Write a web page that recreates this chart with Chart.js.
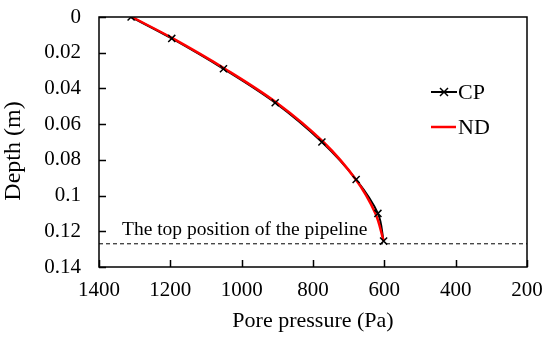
<!DOCTYPE html>
<html>
<head>
<meta charset="utf-8">
<script src="https://cdn.jsdelivr.net/npm/chart.js@4.4.0/dist/chart.umd.min.js"></script>
<style>
  html, body { margin: 0; padding: 0; background: #fff; }
  #wrap { width: 550px; height: 341px; }
</style>
</head>
<body>
<div id="wrap"><canvas id="depthChart" width="550" height="341"></canvas></div>
<script>
// values
var cpPressure = [1310, 1196, 1051, 906, 775, 679, 618, 602];
var cpDepth    = [0, 0.012, 0.029, 0.048, 0.07, 0.091, 0.11, 0.1255];
var ndPressure = [1308, 1193, 1047, 902, 771, 680, 625, 602];
var ndDepth    = [0, 0.012, 0.029, 0.048, 0.07, 0.091, 0.11, 0.1255];
var pipeTopDepth = 0.127;
var pipeTopLabel = 'The top position of the pipeline';
var xTicks = [1400, 1200, 1000, 800, 600, 400, 200];
var yTicks = ['0', '0.02', '0.04', '0.06', '0.08', '0.1', '0.12', '0.14'];

var serif = '"Liberation Serif", "Times New Roman", serif';

function toPoints(xs, ys) {
    return xs.map(function (x, i) { return { x: x, y: ys[i] }; });
}

// inward ticks, box frame, y title, annotation text and legend
var decor = {
    id: 'decor',
    afterDatasetsDraw: function (chart) {
        var c = chart.ctx, a = chart.chartArea;
        var xs = chart.scales.x, ys = chart.scales.y;
        c.save();
        c.strokeStyle = '#000';
        c.lineWidth = 1.5;
        c.strokeRect(a.left, a.top, a.right - a.left, a.bottom - a.top);
        c.beginPath();
        xTicks.forEach(function (v) {
            var px = Math.round(xs.getPixelForValue(v)) + 0.5;
            c.moveTo(px, a.bottom); c.lineTo(px, a.bottom - 7);
        });
        yTicks.forEach(function (v) {
            var py = Math.round(ys.getPixelForValue(parseFloat(v))) + 0.5;
            c.moveTo(a.left, py); c.lineTo(a.left + 7, py);
        });
        c.stroke();

        c.fillStyle = '#000';
        c.font = '19.5px ' + serif;
        c.textBaseline = 'alphabetic';
        c.fillText(pipeTopLabel, a.left + 23, ys.getPixelForValue(pipeTopDepth) - 9);

        // y axis title
        c.save();
        c.translate(14, 151);
        c.rotate(-Math.PI / 2);
        c.font = '24px ' + serif;
        c.textAlign = 'center';
        c.textBaseline = 'middle';
        c.fillText('Depth (m)', 0, 0);
        c.restore();

        // legend
        var lx = 431, ly1 = 92, ly2 = 127;
        c.lineWidth = 2;
        c.beginPath(); c.moveTo(lx, ly1); c.lineTo(lx + 26, ly1); c.stroke();
        c.lineWidth = 1.5;
        c.beginPath();
        c.moveTo(lx + 9, ly1 - 4); c.lineTo(lx + 17, ly1 + 4);
        c.moveTo(lx + 17, ly1 - 4); c.lineTo(lx + 9, ly1 + 4);
        c.stroke();
        c.strokeStyle = '#ff0000';
        c.lineWidth = 2.5;
        c.beginPath(); c.moveTo(lx, ly2); c.lineTo(lx + 25, ly2); c.stroke();
        c.font = '22px ' + serif;
        c.textBaseline = 'middle';
        c.fillText('CP', lx + 27, ly1 + 1);
        c.fillText('ND', lx + 27, ly2 + 1);
        c.restore();
    }
};

var chartConfig = {
    type: 'scatter',
    data: {
        datasets: [{
            label: 'CP',
            data: toPoints(cpPressure, cpDepth),
            showLine: false,
            pointStyle: 'crossRot',
            pointRadius: 5,
            borderColor: '#000',
            borderWidth: 1.5,
            order: 0
        }, {
            label: 'ND',
            data: toPoints(ndPressure, ndDepth),
            showLine: true,
            borderColor: '#ff0000',
            borderWidth: 2.5,
            pointRadius: 0,
            tension: 0.35,
            order: 1
        }, {
            label: 'CP line',
            data: toPoints(cpPressure, cpDepth),
            showLine: true,
            borderColor: '#000',
            borderWidth: 2,
            pointRadius: 0,
            tension: 0.35,
            order: 2
        }, {
            label: 'pipe top',
            data: [{ x: xTicks[0], y: pipeTopDepth }, { x: xTicks[xTicks.length - 1], y: pipeTopDepth }],
            showLine: true,
            borderColor: '#000',
            borderWidth: 1,
            borderDash: [4, 3],
            pointRadius: 0,
            order: 3
        }]
    },
    options: {
        responsive: false,
        animation: false,
        layout: { padding: { top: 17, right: 23, left: 0, bottom: 0 } },
        plugins: {
            legend: { display: false },
            tooltip: { enabled: false }
        },
        scales: {
            x: {
                type: 'linear',
                reverse: true,
                min: 200,
                max: 1400,
                afterFit: function (s) {
                    s.height = 74;
                    s.paddingLeft = 0;
                    s.paddingRight = 0;
                },
                afterBuildTicks: function (s) {
                    s.ticks = xTicks.map(function (v) { return { value: v }; });
                },
                grid: { display: false, drawTicks: false },
                border: { display: false },
                ticks: {
                    color: '#000',
                    padding: 11,
                    maxRotation: 0,
                    font: { family: serif, size: 21 },
                    callback: function (v) { return String(v); }
                },
                title: {
                    display: true,
                    text: 'Pore pressure (Pa)',
                    color: '#000',
                    font: { family: serif, size: 22 },
                    padding: { top: 0, bottom: 7 }
                }
            },
            y: {
                type: 'linear',
                reverse: true,
                min: 0,
                max: 0.14,
                afterFit: function (s) {
                    s.width = 99;
                    s.paddingTop = 0;
                    s.paddingBottom = 0;
                },
                afterBuildTicks: function (s) {
                    s.ticks = yTicks.map(function (v) { return { value: parseFloat(v) }; });
                },
                grid: { display: false, drawTicks: false },
                border: { display: false },
                ticks: {
                    color: '#000',
                    padding: 18,
                    font: { family: serif, size: 21 },
                    callback: function (v) {
                        var i = yTicks.map(parseFloat).indexOf(v);
                        return i >= 0 ? yTicks[i] : '';
                    }
                }
            }
        }
    },
    plugins: [decor]
};

window.depthChart = new Chart(document.getElementById('depthChart').getContext('2d'), chartConfig);
</script>
</body>
</html>
